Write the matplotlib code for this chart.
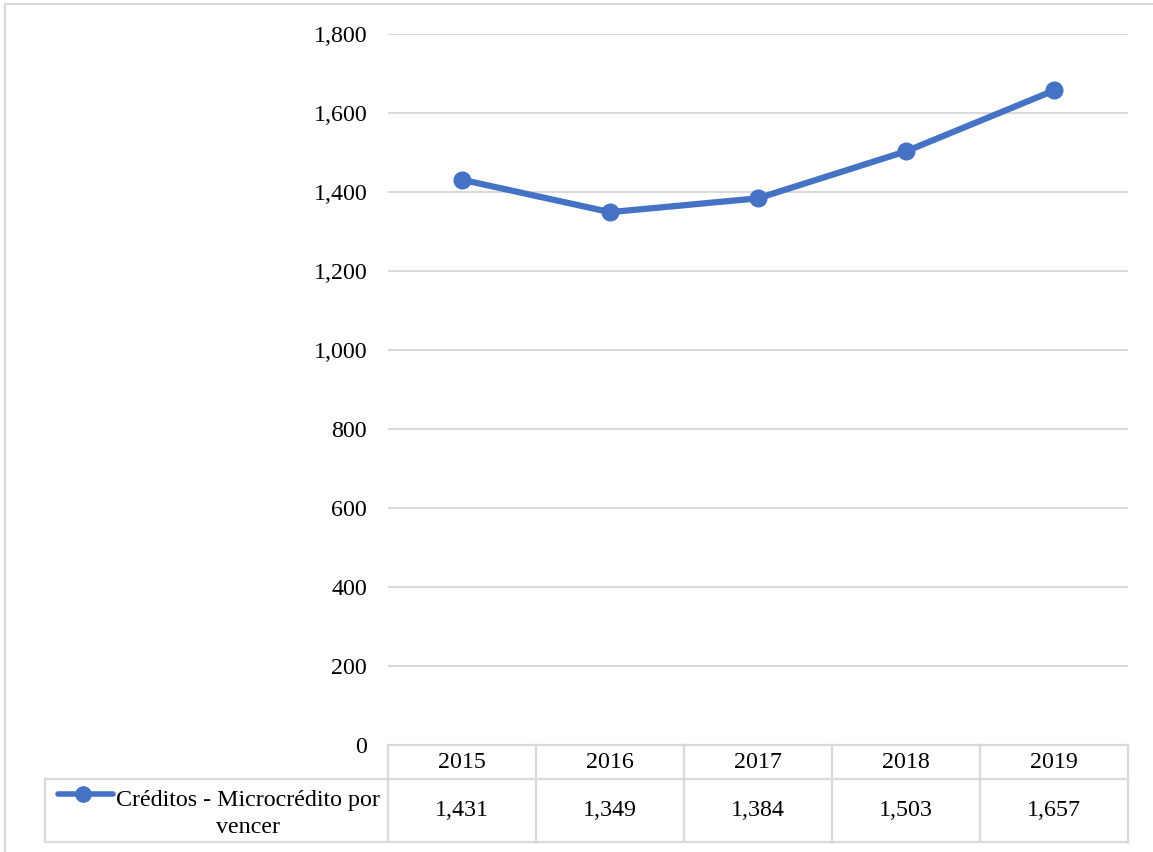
import matplotlib
matplotlib.use("Agg")
import matplotlib.pyplot as plt
from matplotlib.lines import Line2D
from matplotlib.transforms import blended_transform_factory
import numpy as np

years = ["2015", "2016", "2017", "2018", "2019"]
values = [1431, 1349, 1384, 1503, 1657]
yticks = [0, 200, 400, 600, 800, 1000, 1200, 1400, 1600, 1800]
series_label = "Créditos - Microcrédito por\nvencer"

W, H = 1153, 852
plt.rcParams['font.family'] = ['Liberation Serif', 'DejaVu Serif']
fig = plt.figure(figsize=(W / 100, H / 100), dpi=100)

def fy(py):
    return 1 - py / H

def fx(px):
    return px / W

blue = "#4472C4"
grid = "#D9D9D9"
fs = 17.3

# outer border (top and left visible)
fig.add_artist(Line2D([fx(5), 1.0], [fy(4), fy(4)], transform=fig.transFigure, color=grid, linewidth=1.5))
fig.add_artist(Line2D([fx(5), fx(5)], [fy(4), 0.0], transform=fig.transFigure, color=grid, linewidth=1.5))

x0, x1, ytop, ybot = 388, 1128, 34, 745
ax = fig.add_axes([fx(x0), fy(ybot), fx(x1) - fx(x0), fy(ytop) - fy(ybot)])
n = len(years)
xs = np.arange(n)
ax.set_xlim(-0.5, n - 0.5)
ax.set_ylim(0, 1800)
ax.set_yticks(yticks)
ax.set_yticklabels([f"{v:,}" for v in yticks], fontsize=fs, color="#000000")
ax.tick_params(axis='y', length=0, pad=15)
ax.set_xticks([])
for s in ax.spines.values():
    s.set_visible(False)
for v in yticks[1:]:
    ax.axhline(v, color=grid, linewidth=1.4, zorder=1)
ax.plot(xs, values, color=blue, linewidth=4.5, marker='o', markersize=12,
        solid_capstyle='round', zorder=3, clip_on=False)

# data table
tr = blended_transform_factory(ax.transData, fig.transFigure)
y_head_top, y_mid, y_bot = 745, 779, 842
lc = grid
lw = 1.6
edges = np.arange(n + 1) - 0.5
for yy in (y_head_top, y_mid, y_bot):
    fig.add_artist(Line2D([edges[0], edges[-1]], [fy(yy), fy(yy)], transform=tr,
                          color=lc, linewidth=lw))
fig.add_artist(Line2D([fx(45), fx(x0)], [fy(y_mid), fy(y_mid)], transform=fig.transFigure, color=lc, linewidth=lw))
fig.add_artist(Line2D([fx(45), fx(x0)], [fy(y_bot), fy(y_bot)], transform=fig.transFigure, color=lc, linewidth=lw))
fig.add_artist(Line2D([fx(45), fx(45)], [fy(y_mid), fy(y_bot)], transform=fig.transFigure, color=lc, linewidth=lw))
for e in edges:
    fig.add_artist(Line2D([e, e], [fy(y_head_top), fy(y_bot)], transform=tr,
                          color=lc, linewidth=lw))

for i, (yr, v) in enumerate(zip(years, values)):
    fig.text(i, fy(763), yr, transform=tr, ha='center', va='center', fontsize=fs)
    fig.text(i, fy(811), f"{v:,}", transform=tr, ha='center', va='center', fontsize=fs)

# legend key
fig.add_artist(Line2D([fx(58), fx(113)], [fy(794), fy(794)], transform=fig.transFigure,
                      color=blue, linewidth=4, solid_capstyle='round'))
fig.add_artist(Line2D([fx(83)], [fy(794)], transform=fig.transFigure,
                      color=blue, marker='o', markersize=11, linestyle='none'))
fig.text(fx(248), fy(814), series_label, ha='center', va='center', fontsize=fs,
         linespacing=1.35, multialignment='center')

fig.savefig("out.png", dpi=100)
